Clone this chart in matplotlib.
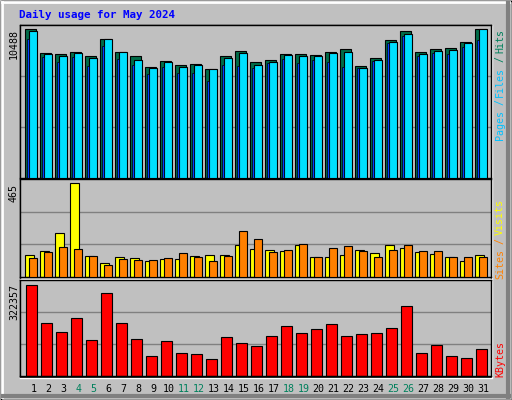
import matplotlib
matplotlib.use("Agg")
import matplotlib.pyplot as plt
from matplotlib.patches import Rectangle
from matplotlib.lines import Line2D

days = list(range(1, 32))
weekend = [4, 5, 11, 12, 18, 19, 25, 26]
hits = [10488, 8780, 8709, 8851, 8566, 9776, 8851, 8566, 7783, 8210, 7926, 7997, 7641, 8566, 8922, 8139,
        8282, 8709, 8709, 8638, 8851, 9065, 7855, 8424, 9705, 10346, 8851, 9065, 9136, 9563, 10488]
files = [10346, 8709, 8566, 8780, 8424, 9776, 8851, 8282, 7712, 8139, 7783, 7926, 7641, 8424, 8780, 7926,
         8139, 8638, 8566, 8566, 8780, 8851, 7712, 8282, 9563, 10132, 8709, 8922, 8994, 9492, 10488]
pages = [9776, 8495, 8139, 8495, 7855, 9278, 8353, 7926, 7356, 7783, 7427, 7427, 6858, 7926, 7855, 7712,
         8068, 8353, 8068, 8282, 8139, 7783, 7712, 8210, 9492, 9990, 8566, 8780, 8709, 9207, 9705]
sites = [107, 128, 218, 465, 102, 67, 97, 92, 77, 87, 87, 102, 107, 107, 158, 138,
         133, 128, 158, 97, 97, 107, 133, 118, 158, 143, 123, 112, 97, 77, 107]
visits = [92, 123, 148, 138, 102, 57, 87, 82, 82, 92, 118, 97, 77, 102, 228, 188,
          123, 133, 163, 97, 143, 153, 128, 97, 133, 158, 128, 128, 97, 97, 97]
kbytes = [322357, 188240, 156475, 205888, 128239, 294125, 188240, 131768, 71767, 124709, 82355, 78826,
          61178, 138827, 117650, 107062, 142357, 177652, 152945, 167063, 184711, 142357, 149416, 152945,
          170593, 248242, 82355, 110591, 71767, 64708, 96473]

W, H = 512, 400
fig = plt.figure(figsize=(W/100, H/100), dpi=100, facecolor="#C0C0C0")
mono = "DejaVu Sans Mono"

def pax(x0, y0, x1, y1):
    return fig.add_axes([x0/W, 1-y1/H, (x1-x0)/W, (y1-y0)/H])

# frame bevel
bg = fig.add_axes([0, 0, 1, 1]); bg.set_xlim(0, W); bg.set_ylim(H, 0); bg.axis("off")
bg.add_patch(Rectangle((0.5, 0.5), W-1, H-1, fill=False, ec="black", lw=1))
bg.add_line(Line2D([2, W-3], [2, 2], color="white", lw=2))
bg.add_line(Line2D([2, 2], [2, H-3], color="white", lw=2))
bg.add_line(Line2D([W-4, W-4], [3, H-3], color="#808080", lw=3))
bg.add_line(Line2D([3, W-3], [H-4, H-4], color="#808080", lw=3))
bg.add_patch(Rectangle((20, 25), 471, 352, fill=False, ec="black", lw=1))
bg.add_line(Line2D([20, 491], [377.5, 377.5], color="white", lw=1))
bg.add_line(Line2D([491.5, 491.5], [25, 378], color="white", lw=1))

xl = (0.267, 31.67)
def setup(ax, top):
    ax.set_facecolor("#C0C0C0")
    ax.set_xlim(*xl); ax.set_ylim(0, top)
    for y in (top/3, 2*top/3):
        ax.axhline(y, color="#808080", lw=1, zorder=0)
    ax.set_xticks([]); ax.set_yticks([])
    for s in ax.spines.values():
        s.set_color("black"); s.set_linewidth(1)

bk = dict(edgecolor="black", linewidth=0.8, align="edge")
a1 = pax(20, 25, 491, 178)
setup(a1, 10488*152/148)
a1.bar([d-0.4 for d in days], hits, width=0.73, color="#006c48", zorder=2, **bk)
a1.bar([d-0.13 for d in days], files, width=0.53, color="#00E0FF", zorder=3, **bk)
a1.bar([d-0.27 for d in days], pages, width=0.14, color="#0040FF", zorder=4, edgecolor="black", linewidth=0.5, align="edge")

a2 = pax(20, 179, 491, 277)
setup(a2, 465*97/93)
a2.bar([d-0.4 for d in days], sites, width=0.6, color="#FFFF00", zorder=2, **bk)
a2.bar([d-0.13 for d in days], visits, width=0.53, color="#FF8000", zorder=3, **bk)

a3 = pax(20, 280, 491, 376)
setup(a3, 322357*96/91.5)
a3.bar([d-0.33 for d in days], kbytes, width=0.73, color="#FF0000", zorder=2, **bk)

bg.add_line(Line2D([20, 491], [178.5, 178.5], color="white", lw=1))
bg.add_line(Line2D([20, 491], [279, 279], color="white", lw=1))

fs = 7.2
fig.text(19/W, 1-15/H, "Daily usage for May 2024", color="#0000FF", fontsize=7.8, fontweight="bold",
         family=mono, va="center")
for d in days:
    bg.text(d*15 + 18.5, 389, str(d), color="#00805c" if d in weekend else "black", fontsize=fs,
            family=mono, ha="center", va="center")
bg.text(14, 29, "10488", rotation=90, fontsize=fs, family=mono, ha="center", va="top")
bg.text(14, 184, "465", rotation=90, fontsize=fs, family=mono, ha="center", va="top")
bg.text(14, 284, "322357", rotation=90, fontsize=fs, family=mono, ha="center", va="top")

def rt(y, s, c):
    bg.text(500, y, s, rotation=90, fontsize=fs, family=mono, ha="center", va="top", color=c)
rt(29, "Hits", "#00805c"); rt(56, "/", "#00805c"); rt(67, "Files", "#00C0FF")
rt(99, "/", "#00C0FF"); rt(110, "Pages", "#00C0FF")
rt(199, "Visits", "#FFFF00"); rt(238, "/", "#FF8000"); rt(249, "Sites", "#FF8000")
rt(341, "KBytes", "#FF0000")

fig.savefig("out.png", dpi=100, facecolor="#C0C0C0")
